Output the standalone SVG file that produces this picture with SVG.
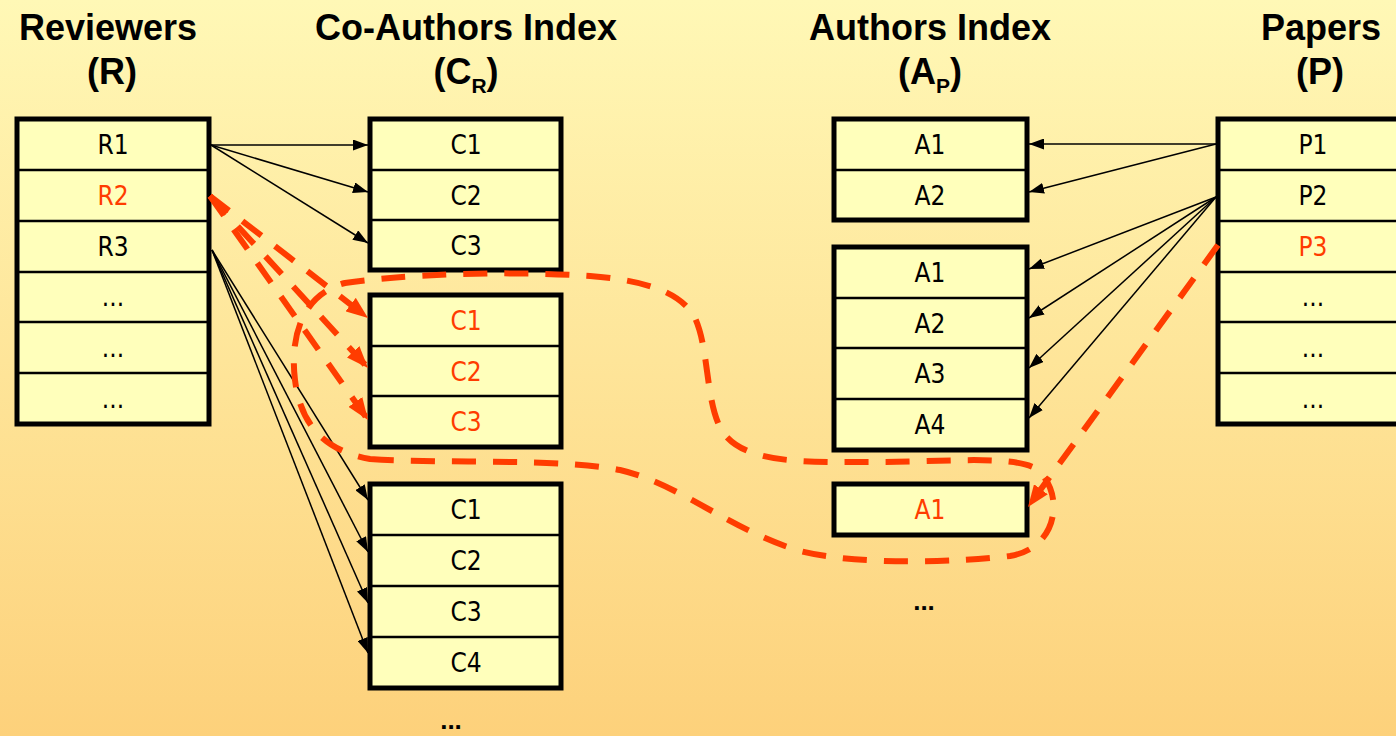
<svg xmlns="http://www.w3.org/2000/svg" width="1396" height="736" viewBox="0 0 1396 736">
<defs>
<linearGradient id="bg" x1="0" y1="0" x2="0" y2="1">
<stop offset="0" stop-color="#FFF8B6"/>
<stop offset="1" stop-color="#FDD17B"/>
</linearGradient>
<marker id="ah" markerWidth="15" markerHeight="11" refX="15" refY="5.5" orient="auto" markerUnits="userSpaceOnUse"><path d="M0,0 L15,5.5 L0,11 Z" fill="#000"/></marker>
<marker id="rh" markerWidth="22" markerHeight="17" refX="22" refY="8.5" orient="auto" markerUnits="userSpaceOnUse"><path d="M0,0 L22,8.5 L0,17 Z" fill="#FF3C00"/></marker>
<style>
.hd{font-family:"Liberation Sans",Arial,sans-serif;font-weight:bold;font-size:36px;fill:#000;text-anchor:middle}
.box{fill:#FFFFBB;stroke:#000;stroke-width:5}
.div{stroke:#000;stroke-width:2.5}
.ct{font-family:"Liberation Sans Narrow","DejaVu Sans Condensed","Liberation Sans",sans-serif;font-stretch:condensed;font-size:26px;fill:#000;text-anchor:middle}
.red{fill:#FF3C00}
.more{font-family:"Liberation Sans",Arial,sans-serif;font-weight:bold;font-size:26px;fill:#000;text-anchor:middle}
.ar{stroke:#000;stroke-width:1.5;fill:none;marker-end:url(#ah)}
.rd{stroke:#FF3C00;stroke-width:6;fill:none;stroke-dasharray:24 17}
.rda{marker-end:url(#rh)}
</style>
</defs>
<rect x="0" y="0" width="1396" height="736" fill="url(#bg)"/>

<g id="headers">
<text class="hd" x="108" y="40">Reviewers</text>
<text class="hd" x="112" y="84">(R)</text>
<text class="hd" x="466" y="40">Co-Authors Index</text>
<text class="hd" x="466" y="84">(C<tspan font-size="21" dy="9">R</tspan><tspan dy="-9">)</tspan></text>
<text class="hd" x="930" y="40">Authors Index</text>
<text class="hd" x="930" y="84">(A<tspan font-size="21" dy="9">P</tspan><tspan dy="-9">)</tspan></text>
<text class="hd" x="1321" y="40">Papers</text>
<text class="hd" x="1320" y="84">(P)</text>
</g>

<g id="reviewers">
<rect class="box" x="17" y="119" width="192" height="305"/>
<line class="div" x1="17" y1="170" x2="209" y2="170"/>
<line class="div" x1="17" y1="221" x2="209" y2="221"/>
<line class="div" x1="17" y1="272" x2="209" y2="272"/>
<line class="div" x1="17" y1="322" x2="209" y2="322"/>
<line class="div" x1="17" y1="373" x2="209" y2="373"/>
<text class="ct" x="113" y="154">R1</text>
<text class="ct red" x="113" y="205">R2</text>
<text class="ct" x="113" y="256">R3</text>
<text class="ct" x="113" y="306">...</text>
<text class="ct" x="113" y="357">...</text>
<text class="ct" x="113" y="408">...</text>
</g>

<g id="coauthors1">
<rect class="box" x="370" y="119" width="191" height="151"/>
<line class="div" x1="370" y1="170" x2="561" y2="170"/>
<line class="div" x1="370" y1="220" x2="561" y2="220"/>
<text class="ct" x="466" y="154">C1</text>
<text class="ct" x="466" y="205">C2</text>
<text class="ct" x="466" y="255">C3</text>
</g>

<g id="coauthors2">
<rect class="box" x="370" y="295" width="191" height="152"/>
<line class="div" x1="370" y1="346" x2="561" y2="346"/>
<line class="div" x1="370" y1="396" x2="561" y2="396"/>
<text class="ct red" x="466" y="330">C1</text>
<text class="ct red" x="466" y="381">C2</text>
<text class="ct red" x="466" y="431">C3</text>
</g>

<g id="coauthors3">
<rect class="box" x="370" y="484" width="191" height="204"/>
<line class="div" x1="370" y1="535" x2="561" y2="535"/>
<line class="div" x1="370" y1="586" x2="561" y2="586"/>
<line class="div" x1="370" y1="637" x2="561" y2="637"/>
<text class="ct" x="466" y="519">C1</text>
<text class="ct" x="466" y="570">C2</text>
<text class="ct" x="466" y="621">C3</text>
<text class="ct" x="466" y="672">C4</text>
</g>

<g id="coauthors-more">
<text class="more" x="451" y="729">...</text>
</g>

<g id="authors1">
<rect class="box" x="834" y="119" width="193" height="101"/>
<line class="div" x1="834" y1="170" x2="1027" y2="170"/>
<text class="ct" x="930" y="154">A1</text>
<text class="ct" x="930" y="205">A2</text>
</g>

<g id="authors2">
<rect class="box" x="834" y="247" width="193" height="203"/>
<line class="div" x1="834" y1="298" x2="1027" y2="298"/>
<line class="div" x1="834" y1="348" x2="1027" y2="348"/>
<line class="div" x1="834" y1="399" x2="1027" y2="399"/>
<text class="ct" x="930" y="282">A1</text>
<text class="ct" x="930" y="333">A2</text>
<text class="ct" x="930" y="383">A3</text>
<text class="ct" x="930" y="434">A4</text>
</g>

<g id="authors3">
<rect class="box" x="834" y="484" width="193" height="51"/>
<text class="ct red" x="930" y="519">A1</text>
</g>

<g id="authors-more">
<text class="more" x="924" y="610">...</text>
</g>

<g id="papers">
<rect class="box" x="1218" y="119" width="192" height="305"/>
<line class="div" x1="1218" y1="170" x2="1410" y2="170"/>
<line class="div" x1="1218" y1="221" x2="1410" y2="221"/>
<line class="div" x1="1218" y1="272" x2="1410" y2="272"/>
<line class="div" x1="1218" y1="322" x2="1410" y2="322"/>
<line class="div" x1="1218" y1="373" x2="1410" y2="373"/>
<text class="ct" x="1313" y="154">P1</text>
<text class="ct" x="1313" y="205">P2</text>
<text class="ct red" x="1313" y="256">P3</text>
<text class="ct" x="1313" y="306">...</text>
<text class="ct" x="1313" y="357">...</text>
<text class="ct" x="1313" y="408">...</text>
</g>

<g id="connectors">
<line class="ar" x1="211" y1="145" x2="368" y2="145"/>
<line class="ar" x1="211" y1="145" x2="368" y2="192"/>
<line class="ar" x1="211" y1="145" x2="368" y2="243"/>
<line class="ar" x1="212" y1="250" x2="368" y2="500"/>
<line class="ar" x1="212" y1="250" x2="368" y2="552"/>
<line class="ar" x1="212" y1="250" x2="368" y2="603"/>
<line class="ar" x1="212" y1="250" x2="368" y2="653"/>
<line class="ar" x1="1216" y1="144" x2="1029" y2="144"/>
<line class="ar" x1="1216" y1="144" x2="1029" y2="192"/>
<line class="ar" x1="1216" y1="197" x2="1029" y2="269"/>
<line class="ar" x1="1216" y1="197" x2="1029" y2="318"/>
<line class="ar" x1="1216" y1="197" x2="1029" y2="368"/>
<line class="ar" x1="1216" y1="197" x2="1029" y2="418"/>
<line class="rd rda" x1="210" y1="196" x2="368" y2="318"/>
<line class="rd rda" x1="210" y1="196" x2="368" y2="368"/>
<line class="rd rda" x1="210" y1="196" x2="368" y2="420"/>
<line class="rd rda" x1="1218" y1="245" x2="1028" y2="507"/>
<path class="rd" d="M 370 459 C 450 464, 560 458, 620 470 C 680 484, 730 530, 800 551 C 860 566, 960 562, 1010 556 C 1060 548, 1065 490, 1035 468 C 1010 455, 940 462, 880 462 C 810 462, 750 465, 725 435 C 705 410, 710 350, 695 318 C 680 290, 640 280, 590 276 C 500 270, 400 275, 345 283 C 300 295, 290 340, 295 380 C 300 420, 320 450, 370 459 Z"/>
</g>
</svg>
